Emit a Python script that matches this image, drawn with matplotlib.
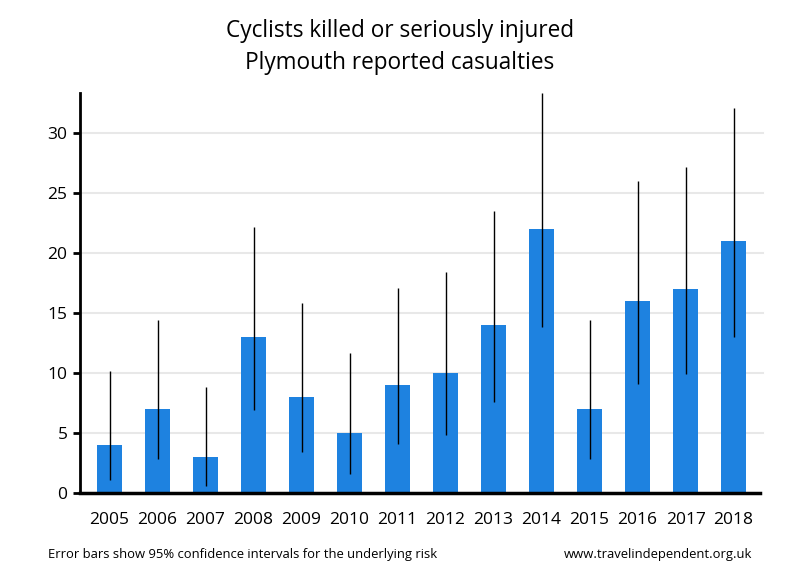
import matplotlib.pyplot as plt
import numpy as np

plt.rcParams['font.family'] = ['Open Sans', 'DejaVu Sans']

years    = ['2005', '2006', '2007', '2008', '2009', '2010', '2011',
            '2012', '2013', '2014', '2015', '2016', '2017', '2018']
casualty = [4, 7, 3, 13, 8, 5, 9, 10, 14, 22, 7, 16, 17, 21]
ci_low   = [1.1, 2.8, 0.6, 6.9, 3.4, 1.6, 4.1, 4.8, 7.6, 13.8, 2.8, 9.1, 9.9, 13.0]
ci_high  = [10.2, 14.4, 8.8, 22.2, 15.8, 11.7, 17.1, 18.4, 23.5, 33.3, 14.4, 26.0, 27.2, 32.1]

bar_col = '#1E82E0'

fig = plt.figure(figsize=(8, 5.8), dpi=100)
ax = fig.add_axes([0.1, 0.15, 0.85, 0.69])

x = np.arange(len(years))
ax.bar(x, casualty, width=0.52, color=bar_col, zorder=2)
ax.vlines(x, ci_low, ci_high, color='black', linewidth=1, zorder=3)

ax.set_xlim(-0.615, len(years) - 1 + 0.55)
ax.set_ylim(0, 33.35)
ax.set_yticks([0, 5, 10, 15, 20, 25, 30])
ax.set_xticks(x)
ax.set_xticklabels(years)
ax.tick_params(axis='x', length=0, pad=14, labelsize=12.5)
ax.tick_params(axis='y', length=5, width=2, labelsize=12.5, pad=4)

for g in [5, 10, 15, 20, 25, 30]:
    ax.axhline(g, color='#e8e8e8', linewidth=1.5, zorder=1, xmax=1.005, clip_on=False)

for s in ['top', 'right']:
    ax.spines[s].set_visible(False)
ax.spines['left'].set_linewidth(2)
ax.spines['bottom'].set_linewidth(2.5)

fig.text(0.5, 0.946, 'Cyclists killed or seriously injured', ha='center', va='center', fontsize=16.3)
fig.text(0.5, 0.891, 'Plymouth reported casualties', ha='center', va='center', fontsize=16.3)
fig.text(0.06, 0.044, 'Error bars show 95% confidence intervals for the underlying risk',
         ha='left', va='center', fontsize=9.4)
fig.text(0.94, 0.044, 'www.travelindependent.org.uk', ha='right', va='center', fontsize=9.4)

fig.savefig('out.png', dpi=100)
